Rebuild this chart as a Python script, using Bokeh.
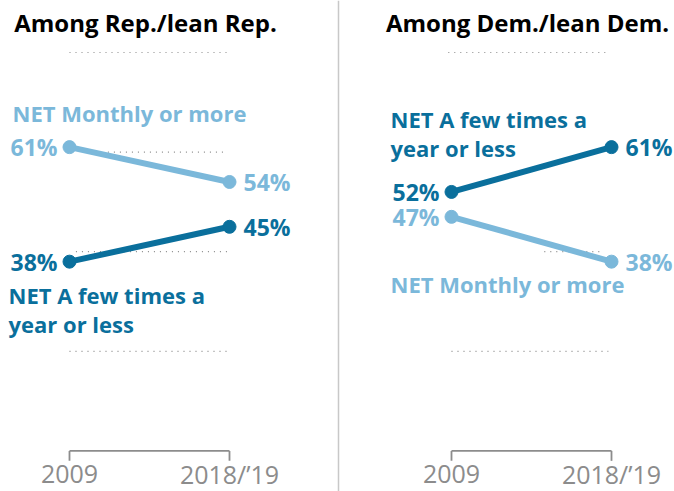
from bokeh.plotting import figure
from bokeh.layouts import row
from bokeh.models import Range1d, Span
from bokeh.embed import file_html
from bokeh.resources import INLINE
from bokeh.core.properties import value

# ---- data ----
years = ["2009", "2018/\u201919"]
panel_titles = ["Among Rep./lean Rep.", "Among Dem./lean Dem."]
rep_monthly = [61, 54]
rep_few = [38, 45]
dem_monthly = [47, 38]
dem_few = [52, 61]
monthly_label = ["NET Monthly or more"]
few_label = ["NET A few times a", "year or less"]
grid_values = [80, 60, 40, 20]

# ---- style ----
DARK = "#0a6f9c"
LIGHT = "#7bb8da"
GRID = "#8a8a8a"
AXIS = "#8c8c8c"
FONT = value("Open Sans")
H = 491
S = 160.0          # px between the two years
PXU = 4.98         # px per percentage point
TOP_PX = 52        # px from top for value 80
YT = 80 + TOP_PX / PXU
YB = 80 - (H - TOP_PX) / PXU
xs = [0, 1]
BL = -9            # correction for alphabetic baseline placement


def make_panel(width, left_px, title, monthly, few, grid_ext):
    p = figure(width=width, height=H,
               x_range=Range1d(-left_px / S, (width - left_px) / S),
               y_range=Range1d(YB, YT),
               output_backend="svg", toolbar_location=None,
               x_axis_type=None, y_axis_type=None, min_border=0,
               outline_line_color=None, background_fill_color="white",
               border_fill_color="white")
    p.grid.visible = False

    # dotted reference lines
    for v, a, b in grid_ext:
        p.segment(x0=[a], y0=[v], x1=[b], y1=[v], line_color=GRID,
                  line_width=1.2, line_dash="1 5")

    # bottom bracket axis
    p.segment(x0=[xs[0]], y0=[0], x1=[xs[1]], y1=[0], line_color=AXIS, line_width=1.8)
    p.segment(x0=xs, y0=[0, 0], x1=xs, y1=[-2, -2], line_color=AXIS, line_width=1.8)
    p.text(x=xs, y=[0, 0], text=years, text_align="center",
           text_baseline="alphabetic", y_offset=32 + BL, text_color=AXIS,
           text_font=FONT, text_font_size="25px")

    # title
    p.text(x=[0.5], y=[YT], text=[title], text_align="center",
           text_baseline="alphabetic", x_offset=-4, y_offset=31 + BL,
           text_color="black", text_font=FONT, text_font_size="24px",
           text_font_style="bold")

    # series
    for vals, col in ((monthly, LIGHT), (few, DARK)):
        p.line(xs, vals, line_color=col, line_width=6)
        p.scatter(xs, vals, size=13, fill_color=col, line_color=col)
        p.text(x=[xs[0]], y=[vals[0]], text=[f"{vals[0]}%"], text_align="right",
               text_baseline="middle", x_offset=-12, text_color=col,
               text_font=FONT, text_font_size="23px", text_font_style="bold")
        p.text(x=[xs[1]], y=[vals[1]], text=[f"{vals[1]}%"], text_align="left",
               text_baseline="middle", x_offset=14, text_color=col,
               text_font=FONT, text_font_size="23px", text_font_style="bold")
    return p


def series_label(p, xv, yv, lines, col, dx, dy, lh=29):
    for i, t in enumerate(lines):
        p.text(x=[xv], y=[yv], text=[t], text_align="left",
               text_baseline="alphabetic", x_offset=dx,
               y_offset=dy + BL + i * lh,
               text_color=col, text_font=FONT, text_font_size="22px",
               text_font_style="bold")


# left panel (Republicans)
p1 = make_panel(333, 69, panel_titles[0], rep_monthly, rep_few,
                [(grid_values[0], 0.0, 1.0), (grid_values[1], 0.24, 0.96),
                 (grid_values[2], 0.04, 1.0), (grid_values[3], 0.0, 1.0)])
series_label(p1, xs[0], rep_monthly[0], monthly_label, LIGHT, -57, -25)
series_label(p1, xs[0], rep_few[0], few_label, DARK, -61, 42)

# right panel (Democrats)
p2 = make_panel(341, 118, panel_titles[1], dem_monthly, dem_few,
                [(grid_values[0], -0.02, 0.98), (grid_values[2], 0.58, 0.95),
                 (grid_values[3], 0.0, 0.98)])
series_label(p2, xs[0], dem_few[0], few_label, DARK, -61, -64)
series_label(p2, xs[0], dem_monthly[0], monthly_label, LIGHT, -61, 76)
p2.add_layout(Span(location=(5 - 118) / S, dimension="height",
                   line_color="#c8c8c8", line_width=1.5))

layout = row(p1, p2)
open("out.html", "w").write(file_html(layout, INLINE))
